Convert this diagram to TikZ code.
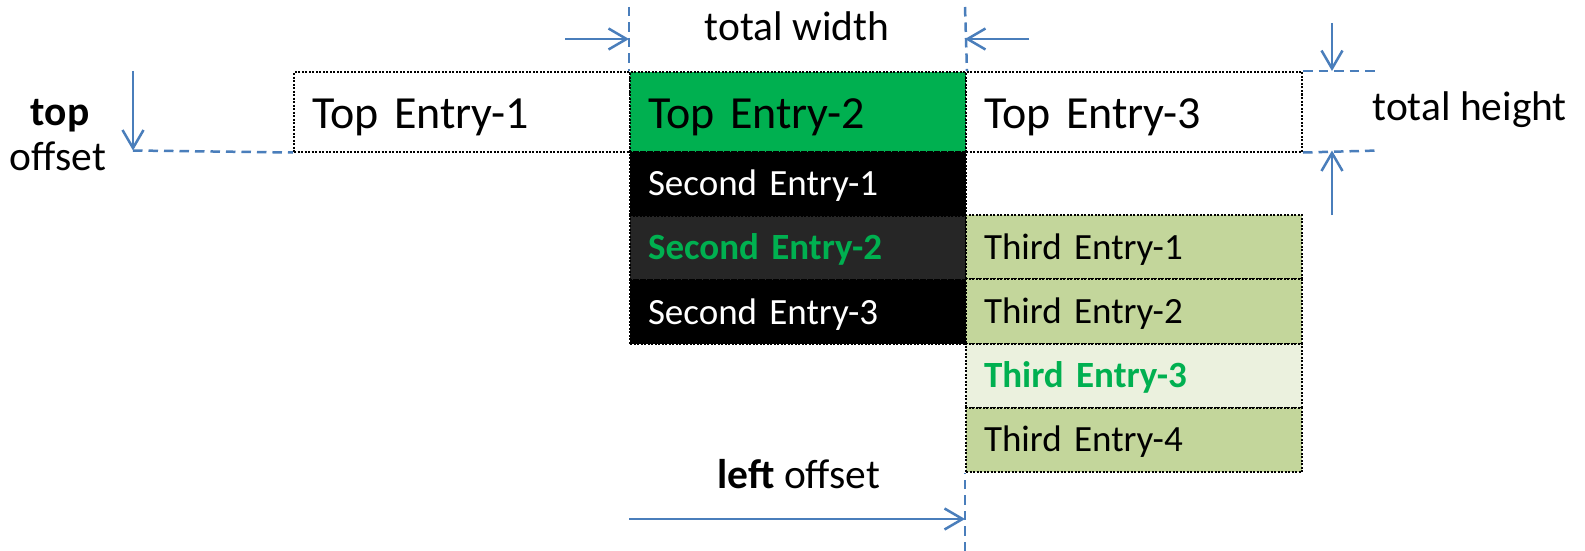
\documentclass[tikz,border=0pt]{standalone}
\usepackage{fontspec}
\setmainfont{Carlito}
\usepackage{tikz}
\usetikzlibrary{arrows.meta}
\usepackage{xcolor}
\definecolor{dimblue}{HTML}{4A7EBB}
\definecolor{selgreen}{HTML}{00B050}
\definecolor{olivecell}{HTML}{C3D69B}
\definecolor{paleolive}{HTML}{EBF1DE}
\definecolor{darkcell}{HTML}{262626}
\newcommand{\topfont}{\fontsize{46}{55}\selectfont}
\newcommand{\subfont}{\fontsize{37}{44}\selectfont}
\newcommand{\labfont}{\fontsize{41.5}{50}\selectfont}

\begin{document}
\begin{tikzpicture}[x=1pt,y=-1pt]
\tikzstyle{cell}=[draw=black,line width=2pt,dash pattern=on 2pt off 1.5pt,anchor=north west,inner xsep=18pt,inner ysep=0pt,text width=300pt,align=left]
\tikzstyle{topcell}=[cell,text height=56pt,text depth=23.5pt,font=\topfont]
\tikzstyle{subcell}=[cell,text height=44pt,text depth=20.25pt,font=\subfont]
\tikzstyle{guide}=[draw=dimblue,line width=2.5pt,dash pattern=on 9.5pt off 6pt]
\tikzstyle{dimarrow}=[draw=dimblue,line width=2.5pt,-{Straight Barb[length=18pt,width=21pt]}]
\useasboundingbox[fill=white] (0,0) rectangle (1585,551);

\node[topcell,fill=white] (top1) at (293,71) {Top Entry-1};
\node[topcell,fill=selgreen] (top2) at (629,71) {Top Entry-2};
\node[topcell,fill=white] (top3) at (965,71) {Top Entry-3};

\node[subcell,fill=black,text=white] (sec1) at (629,150.5) {Second Entry-1};
\node[subcell,fill=darkcell,text=selgreen,font=\subfont\bfseries] (sec2) at (629,214.75) {Second Entry-2};
\node[subcell,fill=black,text=white] (sec3) at (629,279) {Second Entry-3};

\node[subcell,fill=olivecell] (thi1) at (965,214) {Third Entry-1};
\node[subcell,fill=olivecell] (thi2) at (965,278.25) {Third Entry-2};
\node[subcell,fill=paleolive,text=selgreen,font=\subfont\bfseries] (thi3) at (965,342.5) {Third Entry-3};
\node[subcell,fill=olivecell] (thi4) at (965,406.75) {Third Entry-4};

\node[anchor=base,font=\labfont] (twlabel) at (797,41) {total width};
\node[anchor=base west,font=\labfont] (thlabel) at (1369,120) {total height};
\node[anchor=base,font=\labfont\bfseries] (tolabel) at (60,125) {top};
\node[anchor=base,font=\labfont] (tolabelb) at (58,170) {offset};
\node[anchor=base west,font=\labfont] (lolabel) at (714,488) {\textbf{left} offset};

\coordinate (twl) at (629,7);
\coordinate (twr) at (965,7);
\coordinate (twla) at (565,39);
\coordinate (twlt) at (629,39);
\coordinate (twra) at (1029,39);
\coordinate (twrt) at (965,39);
\draw[guide] (twl) -- (top2.north west);
\draw[guide] (twr) -- (top2.north east);
\draw[dimarrow] (twla) -- (twlt);
\draw[dimarrow] (twra) -- (twrt);

\coordinate (thu) at (1379,71);
\coordinate (thd) at (1379,150.5);
\coordinate (tha) at (1332,23);
\coordinate (that) at (1332,71);
\coordinate (thb) at (1332,215);
\coordinate (thbt) at (1332,150.5);
\draw[guide] (top3.north east) -- (thu);
\draw[guide] (top3.south east) -- (thd);
\draw[dimarrow] (tha) -- (that);
\draw[dimarrow] (thb) -- (thbt);

\coordinate (toa) at (133,71);
\coordinate (tot) at (133,150.5);
\draw[dimarrow] (toa) -- (tot);
\draw[guide] (tot) -- (top1.south west);

\coordinate (loa) at (629,519);
\coordinate (lot) at (965,519);
\coordinate (lob) at (965,551);
\draw[guide] (lob) -- (thi4.south west);
\draw[dimarrow] (loa) -- (lot);
\end{tikzpicture}
\end{document}
